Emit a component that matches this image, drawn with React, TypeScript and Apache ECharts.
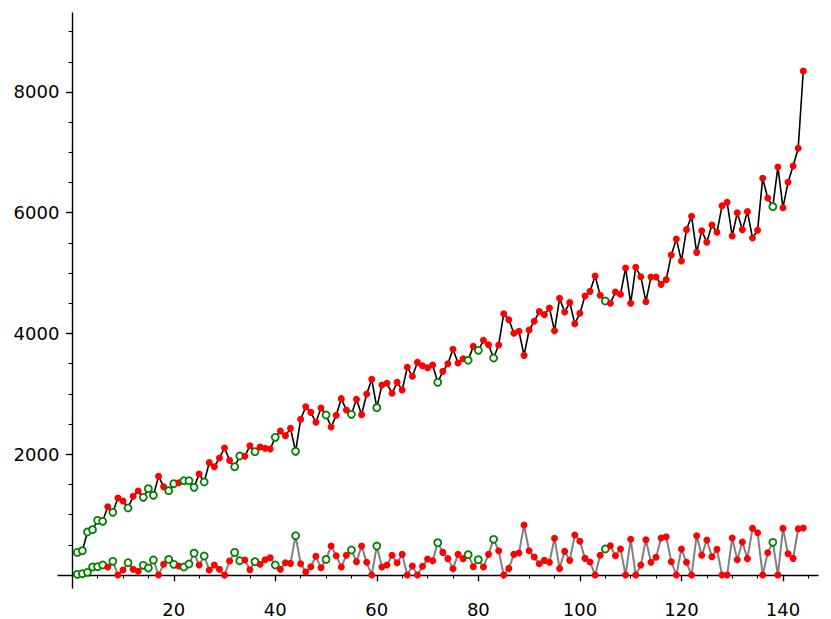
import React, { useEffect, useRef } from "react";
import * as echarts from "echarts";

// n = 1..144
const upperValues: number[] = [
  375, 403, 712, 751, 905, 889, 1132, 1038, 1275, 1226,
  1110, 1303, 1391, 1286, 1430, 1320, 1634, 1463, 1397, 1513,
  1529, 1562, 1562, 1452, 1673, 1540, 1861, 1794, 1938, 2104,
  1899, 1794, 1971, 1966, 2142, 2043, 2120, 2098, 2087, 2280,
  2385, 2308, 2429, 2048, 2578, 2788, 2694, 2530, 2766, 2650,
  2451, 2645, 2921, 2733, 2661, 2910, 2656, 2998, 3241, 2772,
  3147, 3175, 3009, 3191, 3064, 3440, 3291, 3522, 3467, 3434,
  3478, 3191, 3373, 3500, 3738, 3511, 3583, 3556, 3787, 3721,
  3887, 3815, 3594, 3810, 4328, 4229, 4003, 4036, 3638, 4058,
  4202, 4362, 4312, 4422, 4044, 4582, 4356, 4511, 4163, 4334,
  4621, 4698, 4952, 4632, 4538, 4500, 4687, 4649, 5085, 4500,
  5096, 4941, 4527, 4936, 4936, 4814, 4892, 5300, 5563, 5201,
  5720, 5941, 5344, 5703, 5510, 5797, 5676, 6117, 6173, 5615,
  6001, 5720, 6018, 5582, 5709, 6570, 6244, 6101, 6758, 6084,
  6504, 6774, 7067, 8348,
];

const lowerValues: number[] = [
  11, 22, 44, 132, 138, 166, 132, 226, 0, 83,
  204, 94, 61, 160, 116, 248, 0, 177, 259, 177,
  149, 132, 182, 362, 166, 315, 83, 166, 94, 0,
  232, 375, 237, 248, 88, 221, 177, 254, 287, 166,
  94, 204, 193, 651, 188, 50, 138, 310, 121, 259,
  480, 320, 133, 326, 414, 221, 480, 210, 0, 480,
  133, 166, 326, 204, 342, 0, 149, 0, 144, 265,
  237, 536, 375, 271, 105, 342, 271, 337, 138, 254,
  133, 342, 591, 403, 0, 110, 342, 364, 828, 403,
  298, 188, 243, 210, 610, 108, 392, 243, 663, 558,
  276, 215, 0, 326, 431, 486, 320, 431, 0, 591,
  0, 166, 585, 210, 293, 613, 635, 221, 0, 431,
  210, 0, 651, 326, 580, 304, 425, 0, 0, 613,
  254, 547, 271, 773, 701, 0, 370, 541, 0, 773,
  353, 276, 767, 778,
];

// indices n drawn as hollow green circles
const greenIndices: number[] = [
  1, 2, 3, 4, 5, 6, 8, 11, 14, 15, 16, 19, 20, 22, 23, 24, 26, 32, 33, 36,
  40, 44, 50, 55, 60, 72, 78, 80, 83, 105, 138,
];

const xMajorTicks: number[] = [20, 40, 60, 80, 100, 120, 140];
const xMinorTicks: number[] = [
  5, 10, 15, 25, 30, 35, 45, 50, 55, 65, 70, 75, 85, 90, 95, 105, 110, 115,
  125, 130, 135, 145,
];
const yMajorTicks: number[] = [2000, 4000, 6000, 8000];
const yMinorTicks: number[] = [
  500, 1000, 1500, 2500, 3000, 3500, 4500, 5000, 5500, 6500, 7000, 7500,
  8500, 9000,
];

const X_MIN = -2.8;
const X_MAX = 146.9;
const Y_MIN = -215;
const Y_MAX = 9308;

const greenSet = new Set(greenIndices);

function buildData(values: number[]) {
  return values.map((v, i) => {
    const n = i + 1;
    if (greenSet.has(n)) {
      return {
        value: [n, v],
        symbol: "circle",
        symbolSize: 7,
        itemStyle: { color: "#ffffff", borderColor: "#008000", borderWidth: 1.8 },
      };
    }
    return {
      value: [n, v],
      symbol: "circle",
      symbolSize: 7,
      itemStyle: { color: "#ff0000", borderColor: "#ff0000", borderWidth: 0 },
    };
  });
}

const labelStyle = {
  fontFamily: "DejaVu Sans",
  fontSize: 18,
  color: "#000",
  formatter: (v: number) => String(Math.round(v)),
};

export default function App() {
  const ref = useRef<HTMLDivElement>(null);
  useEffect(() => {
    document.body.style.margin = "0";
    if (!ref.current) return;
    const chart = echarts.init(ref.current, null, { renderer: "svg" });
    chart.setOption({
      animation: false,
      backgroundColor: "#ffffff",
      grid: {
        left: 58,
        right: 13,
        top: 13,
        bottom: 31,
        containLabel: false,
        outerBoundsMode: "none",
      },
      xAxis: [
        {
          type: "value",
          min: X_MIN,
          max: X_MAX,
          scale: true,
          axisLine: { show: true, onZero: true, lineStyle: { color: "#000", width: 1.4 } },
          axisTick: {
            show: true,
            inside: false,
            length: 6.3,
            customValues: xMajorTicks,
            lineStyle: { color: "#000", width: 1.4 },
          },
          axisLabel: { show: true, customValues: xMajorTicks, margin: 12.6, ...labelStyle },
          splitLine: { show: false },
        },
        {
          type: "value",
          position: "bottom",
          min: X_MIN,
          max: X_MAX,
          scale: true,
          axisLine: { show: false, onZero: true },
          axisTick: {
            show: true,
            inside: false,
            length: 3.6,
            customValues: xMinorTicks,
            lineStyle: { color: "#000", width: 1.1 },
          },
          axisLabel: { show: false },
          splitLine: { show: false },
        },
      ],
      yAxis: [
        {
          type: "value",
          min: Y_MIN,
          max: Y_MAX,
          scale: true,
          axisLine: { show: true, onZero: true, lineStyle: { color: "#000", width: 1.4 } },
          axisTick: {
            show: true,
            inside: false,
            length: 6.3,
            customValues: yMajorTicks,
            lineStyle: { color: "#000", width: 1.4 },
          },
          axisLabel: { show: true, customValues: yMajorTicks, margin: -1.4, ...labelStyle },
          splitLine: { show: false },
        },
        {
          type: "value",
          position: "left",
          min: Y_MIN,
          max: Y_MAX,
          scale: true,
          axisLine: { show: false, onZero: true },
          axisTick: {
            show: true,
            inside: false,
            length: 3.6,
            customValues: yMinorTicks,
            lineStyle: { color: "#000", width: 1.1 },
          },
          axisLabel: { show: false },
          splitLine: { show: false },
        },
      ],
      series: [
        {
          type: "line",
          xAxisIndex: 0,
          yAxisIndex: 0,
          data: buildData(lowerValues),
          showSymbol: true,
          showAllSymbol: true,
          lineStyle: { color: "#808080", width: 2 },
          emphasis: { disabled: true },
          silent: true,
          z: 2,
        },
        {
          type: "line",
          xAxisIndex: 0,
          yAxisIndex: 0,
          data: buildData(upperValues),
          showSymbol: true,
          showAllSymbol: true,
          lineStyle: { color: "#000000", width: 1.6 },
          emphasis: { disabled: true },
          silent: true,
          z: 3,
        },
      ],
    });
    return () => chart.dispose();
  }, []);
  return <div ref={ref} style={{ width: 831, height: 619 }} />;
}
